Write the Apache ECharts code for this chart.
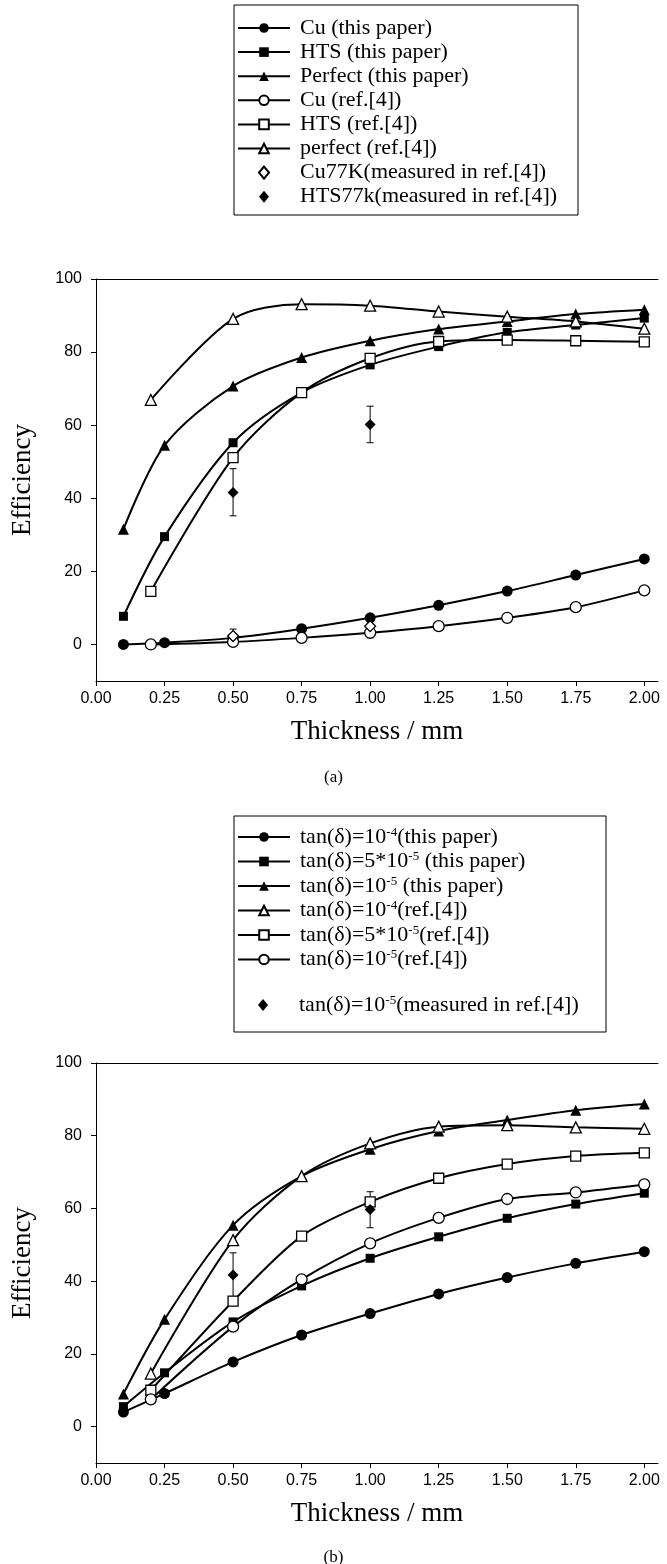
<!DOCTYPE html>
<html>
<head>
<meta charset="utf-8">
<script src="https://cdn.jsdelivr.net/npm/echarts@6/dist/echarts.min.js"></script>
<style>
  html, body { margin: 0; padding: 0; background: #fff; }
  #chart { width: 667px; height: 1564px; }
</style>
</head>
<body>
<div id="chart"></div>
<script>
// ---- shared x positions (thickness, mm) ----
const xThisPaper = [0.1, 0.25, 0.5, 0.75, 1.0, 1.25, 1.5, 1.75, 2.0];
const xRef = [0.2, 0.5, 0.75, 1.0, 1.25, 1.5, 1.75, 2.0];
const xMeasured = [0.5, 1.0];

// ---- tick labels ----
const xTicks = [0, 0.25, 0.5, 0.75, 1.0, 1.25, 1.5, 1.75, 2.0];
const yTicks = [0, 20, 40, 60, 80, 100];

// ---- panel (a): conductor material ----
const namesA = [
  'Cu (this paper)', 'HTS (this paper)', 'Perfect (this paper)',
  'Cu (ref.[4])', 'HTS (ref.[4])', 'perfect (ref.[4])',
  'Cu77K(measured in ref.[4])', 'HTS77k(measured in ref.[4])'
];
const cuThisPaper      = [0.0, 0.5, 1.8, 4.3, 7.3, 10.7, 14.6, 19.0, 23.4];
const htsThisPaper     = [7.7, 29.5, 55.2, 68.9, 76.5, 81.5, 85.4, 87.4, 89.3];
const perfectThisPaper = [31.5, 54.5, 70.7, 78.5, 83.1, 86.3, 88.4, 90.4, 91.6];
const cuRef            = [0.0, 0.7, 1.8, 3.2, 5.0, 7.3, 10.2, 14.8];
const htsRef           = [14.5, 51.1, 68.9, 78.3, 82.9, 83.3, 83.1, 82.8];
const perfectRef       = [66.9, 89.1, 93.1, 92.7, 91.1, 89.7, 88.4, 86.4];
const cu77K     = [2.3, 5.0];
const cu77KLow  = [1.0, 1.8];
const cu77KHigh = [4.2, 5.4];
const hts77K     = [41.6, 60.2];
const hts77KLow  = [35.2, 55.2];
const hts77KHigh = [48.1, 65.2];

// ---- panel (b): loss tangent ----
const namesB = [
  'tan(δ)=10^{-4}(this paper)', 'tan(δ)=5*10^{-5} (this paper)', 'tan(δ)=10^{-5} (this paper)',
  'tan(δ)=10^{-4}(ref.[4])', 'tan(δ)=5*10^{-5}(ref.[4])', 'tan(δ)=10^{-5}(ref.[4])',
  'tan(δ)=10^{-5}(measured in ref.[4])'
];
const tan1e4ThisPaper  = [4.0, 9.1, 17.8, 25.2, 31.1, 36.5, 41.0, 44.9, 48.1];
const tan5e5ThisPaper  = [5.5, 14.8, 28.8, 38.7, 46.3, 52.2, 57.3, 61.2, 64.2];
const tan1e5ThisPaper  = [9.0, 29.5, 55.4, 68.9, 76.3, 81.3, 84.3, 87.0, 88.7];
const tan1e4Ref        = [14.6, 51.3, 68.9, 77.9, 82.5, 82.9, 82.3, 81.9];
const tan5e5Ref        = [10.0, 34.5, 52.4, 61.8, 68.3, 72.2, 74.4, 75.3];
const tan1e5Ref        = [7.5, 27.5, 40.5, 50.4, 57.4, 62.6, 64.4, 66.6];
const tan1e5Measured     = [41.7, 59.7];
const tan1e5MeasuredLow  = [35.7, 54.7];
const tan1e5MeasuredHigh = [47.8, 64.6];

// ---- styling ----
const SERIF = '"Liberation Serif", "Times New Roman", serif';
const SANS = '"Liberation Sans", Arial, sans-serif';
const INK = '#000';
// diamond outline for legend icons (a path keeps its aspect inside the wide icon box)
const DIAMOND_ICON = 'path://M5,0L10,6L5,12L0,6Z';
const measuredNames = [namesA[6], namesA[7], namesB[6]];

function pairs(xs, ys) { return xs.map((x, i) => [x, ys[i]]); }
function spans(xs, lo, hi) { return xs.map((x, i) => [x, lo[i], hi[i]]); }

function bottomAxis(gi) {
  return {
    type: 'value', gridIndex: gi, min: 0, max: 2.05, position: 'bottom',
    axisLine: { show: true, onZero: false, lineStyle: { color: INK, width: 1 } },
    axisTick: { show: true, customValues: xTicks, length: 5, lineStyle: { color: INK, width: 1 } },
    axisLabel: { customValues: xTicks, formatter: v => v.toFixed(2), color: INK,
                 fontFamily: SANS, fontSize: 16, margin: 10 },
    splitLine: { show: false },
    name: 'Thickness / mm', nameLocation: 'middle', nameGap: 37,
    nameTextStyle: { fontFamily: SERIF, fontSize: 27, color: INK }
  };
}
// thin line closing the top of each plot frame
function topFrameAxis(gi) {
  return {
    type: 'value', gridIndex: gi, min: 0, max: 2.05, position: 'top',
    axisLine: { show: true, onZero: false, lineStyle: { color: INK, width: 1 } },
    axisTick: { show: false }, axisLabel: { show: false }, splitLine: { show: false }
  };
}
function leftAxis(gi) {
  return {
    type: 'value', gridIndex: gi, min: -10, max: 100,
    axisLine: { show: true, onZero: false, lineStyle: { color: INK, width: 1 } },
    axisTick: { show: true, customValues: yTicks, length: 5, lineStyle: { color: INK, width: 1 } },
    axisLabel: { customValues: yTicks, color: INK, fontFamily: SANS, fontSize: 16, margin: 14 },
    splitLine: { show: false },
    name: 'Efficiency', nameLocation: 'middle', nameGap: 60,
    nameTextStyle: { fontFamily: SERIF, fontSize: 27, color: INK }
  };
}

// filled or hollow marker style
function markStyle(hollow) {
  return hollow
    ? { color: '#fff', borderColor: INK, borderWidth: 1.3, opacity: 1 }
    : { color: INK, borderColor: INK, borderWidth: 0, opacity: 1 };
}

function curve(name, xs, ys, gi, symbol, size, hollow) {
  return {
    type: 'line', name, xAxisIndex: gi * 2, yAxisIndex: gi,
    data: pairs(xs, ys), smooth: 0.3, symbol, symbolSize: size, showAllSymbol: true,
    lineStyle: { color: INK, width: 2 },
    itemStyle: markStyle(hollow),
    emphasis: { disabled: true }, silent: true
  };
}

function points(name, xs, ys, gi, hollow) {
  return {
    type: 'scatter', name, xAxisIndex: gi * 2, yAxisIndex: gi,
    data: pairs(xs, ys), symbol: 'diamond', symbolSize: 11,
    itemStyle: markStyle(hollow), emphasis: { disabled: true }, silent: true, z: 4
  };
}

function errorBars(xs, lo, hi, gi) {
  return {
    type: 'custom', xAxisIndex: gi * 2, yAxisIndex: gi,
    data: spans(xs, lo, hi), encode: { x: 0, y: [1, 2] }, silent: true, z: 3,
    renderItem: (params, api) => {
      const x = api.value(0);
      const a = api.coord([x, api.value(1)]);
      const b = api.coord([x, api.value(2)]);
      const cap = 3.5;
      const st = { stroke: INK, lineWidth: 1 };
      return {
        type: 'group', children: [
          { type: 'line', shape: { x1: a[0], y1: a[1], x2: b[0], y2: b[1] }, style: st },
          { type: 'line', shape: { x1: a[0] - cap, y1: a[1], x2: a[0] + cap, y2: a[1] }, style: st },
          { type: 'line', shape: { x1: b[0] - cap, y1: b[1], x2: b[0] + cap, y2: b[1] }, style: st }
        ]
      };
    }
  };
}

// names carry exponents as ^{...}; show them as superscripts
function richName(name) {
  return name.replace(/\^\{([^}]*)\}/g, '{s|$1}');
}

const legendText = {
  fontFamily: SERIF, fontSize: 22, lineHeight: 22, color: INK, padding: [0, 0, 0, 5],
  rich: { s: { fontFamily: SERIF, fontSize: 13, lineHeight: 10, verticalAlign: 'top', color: INK } }
};
function legendBlock(names, left, top, gap) {
  return {
    orient: 'vertical', left, top, padding: 0, itemGap: gap,
    itemWidth: 52, itemHeight: 12, selectedMode: false, symbolKeepAspect: true,
    data: names.map(n => measuredNames.includes(n) ? { name: n, icon: DIAMOND_ICON } : n),
    formatter: richName, textStyle: legendText
  };
}

const option = {
  backgroundColor: '#fff',
  animation: false,
  title: [
    { text: '(a)', left: 'center', top: 764,
      textStyle: { fontFamily: SERIF, fontSize: 17, fontWeight: 'normal', color: INK } },
    { text: '(b)', left: 'center', top: 1544,
      textStyle: { fontFamily: SERIF, fontSize: 17, fontWeight: 'normal', color: INK } }
  ],
  graphic: [
    { type: 'rect', shape: { x: 234, y: 5, width: 344, height: 210 },
      style: { fill: 'none', stroke: INK, lineWidth: 1 }, silent: true },
    { type: 'rect', shape: { x: 234, y: 816, width: 372, height: 216 },
      style: { fill: 'none', stroke: INK, lineWidth: 1 }, silent: true }
  ],
  legend: [
    legendBlock(namesA, 237, 17, 2.1),
    legendBlock(namesB.slice(0, 6), 237, 826, 2.5),
    // this block holds only a diamond icon, whose box starts 21px into the item
    legendBlock(namesB.slice(6), 258, 994, 2)
  ],
  grid: [
    { left: 96, top: 279, width: 562, height: 402 },
    { left: 96, top: 1063, width: 562, height: 400 }
  ],
  xAxis: [bottomAxis(0), topFrameAxis(0), bottomAxis(1), topFrameAxis(1)],
  yAxis: [leftAxis(0), leftAxis(1)],
  series: [
    // panel (a)
    curve(namesA[0], xThisPaper, cuThisPaper, 0, 'circle', 11, false),
    curve(namesA[1], xThisPaper, htsThisPaper, 0, 'rect', 9, false),
    curve(namesA[2], xThisPaper, perfectThisPaper, 0, 'triangle', 11, false),
    curve(namesA[3], xRef, cuRef, 0, 'circle', 11, true),
    curve(namesA[4], xRef, htsRef, 0, 'rect', 10, true),
    curve(namesA[5], xRef, perfectRef, 0, 'triangle', 11, true),
    errorBars(xMeasured, cu77KLow, cu77KHigh, 0),
    errorBars(xMeasured, hts77KLow, hts77KHigh, 0),
    points(namesA[6], xMeasured, cu77K, 0, true),
    points(namesA[7], xMeasured, hts77K, 0, false),
    // panel (b)
    curve(namesB[0], xThisPaper, tan1e4ThisPaper, 1, 'circle', 11, false),
    curve(namesB[1], xThisPaper, tan5e5ThisPaper, 1, 'rect', 9, false),
    curve(namesB[2], xThisPaper, tan1e5ThisPaper, 1, 'triangle', 11, false),
    curve(namesB[3], xRef, tan1e4Ref, 1, 'triangle', 11, true),
    curve(namesB[4], xRef, tan5e5Ref, 1, 'rect', 10, true),
    curve(namesB[5], xRef, tan1e5Ref, 1, 'circle', 11, true),
    errorBars(xMeasured, tan1e5MeasuredLow, tan1e5MeasuredHigh, 1),
    points(namesB[6], xMeasured, tan1e5Measured, 1, false)
  ]
};

const chart = echarts.init(document.getElementById('chart'), null, { renderer: 'canvas' });
chart.setOption(option);
</script>
</body>
</html>
